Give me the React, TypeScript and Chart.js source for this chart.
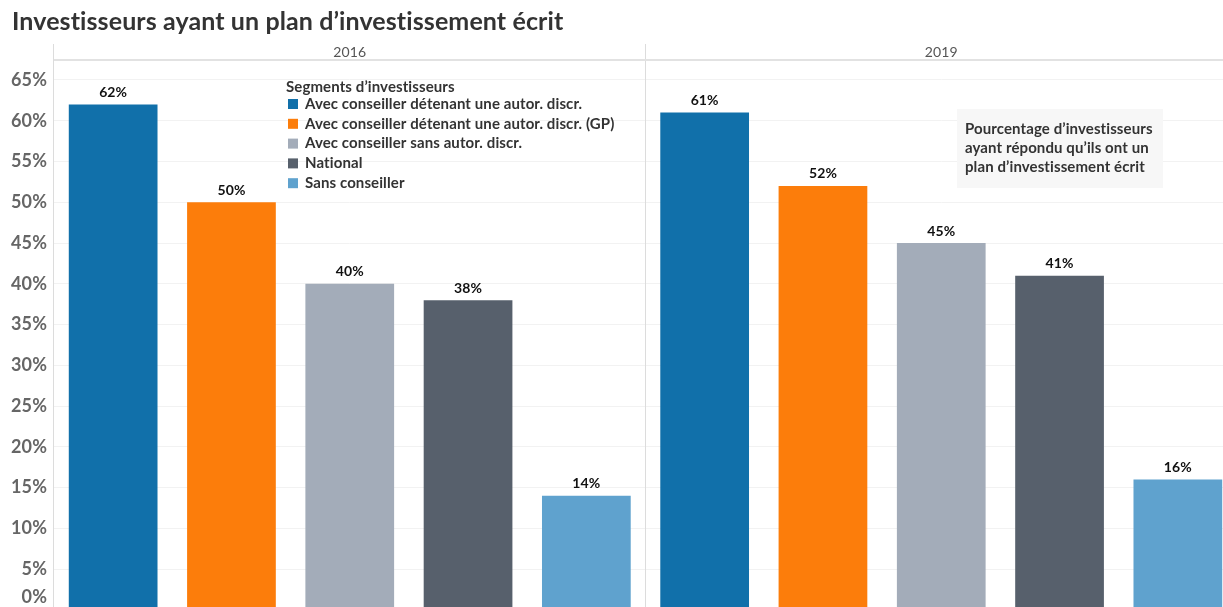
import React, { useEffect, useRef } from "react";
import { Chart, registerables } from "chart.js";

Chart.register(...registerables);

const TITLE = "Investisseurs ayant un plan d’investissement écrit";
const YEARS = ["2016", "2019"];
const SEGMENTS = [
  "Avec conseiller détenant une autor. discr.",
  "Avec conseiller détenant une autor. discr. (GP)",
  "Avec conseiller sans autor. discr.",
  "National",
  "Sans conseiller",
];
const VALUES_2016 = [62, 50, 40, 38, 14];
const VALUES_2019 = [61, 52, 45, 41, 16];
const COLORS = ["#1170aa", "#fc7d0b", "#a3acb9", "#57606c", "#5fa2ce"];
const LEGEND_TITLE = "Segments d’investisseurs";
const NOTE_LINES = [
  "Pourcentage d’investisseurs",
  "ayant répondu qu’ils ont un",
  "plan d’investissement écrit",
];
const Y_TICKS = [0, 5, 10, 15, 20, 25, 30, 35, 40, 45, 50, 55, 60, 65];

const FONT = "Lato, 'Noto Sans', sans-serif";

export default function App() {
  const ref = useRef<HTMLCanvasElement | null>(null);

  useEffect(() => {
    document.body.style.margin = "0";
    const canvas = ref.current;
    if (!canvas) return;

    const series = [VALUES_2016, VALUES_2019];
    const points: { x: number; y: number }[] = [];
    const bg: string[] = [];
    series.forEach((vals, p) => {
      vals.forEach((v, i) => {
        points.push({ x: p * SEGMENTS.length + i + 0.5, y: v });
        bg.push(COLORS[i]);
      });
    });

    const decor = {
      id: "decor",
      afterDatasetsDraw(chart: any) {
        const ctx = chart.ctx;
        const xs = chart.scales.x;
        const ys = chart.scales.y;
        const area = chart.chartArea;
        ctx.save();
        try {
          (ctx as any).letterSpacing = "0.1px";
        } catch (e) {}

        // title
        ctx.fillStyle = "#333333";
        ctx.font = `bold 25px ${FONT}`;
        ctx.textAlign = "left";
        ctx.textBaseline = "middle";
        ctx.fillText(TITLE, 12, 22);

        // panel lines
        ctx.strokeStyle = "#dcdcdc";
        ctx.lineWidth = 1;
        const n = SEGMENTS.length;
        const bounds = [0, n, 2 * n].map((v) => Math.round(xs.getPixelForValue(v)) - 0.5);
        bounds.forEach((bx) => {
          ctx.beginPath();
          ctx.moveTo(bx, 44);
          ctx.lineTo(bx, area.bottom);
          ctx.stroke();
        });
        ctx.strokeStyle = "#e2e2e2";
        ctx.lineWidth = 2;
        ctx.beginPath();
        ctx.moveTo(area.left, 60);
        ctx.lineTo(area.right, 60);
        ctx.stroke();

        // headers
        ctx.fillStyle = "#555555";
        ctx.font = `14px ${FONT}`;
        ctx.textAlign = "center";
        YEARS.forEach((yr, p) => {
          ctx.fillText(yr, xs.getPixelForValue(p * n + n / 2), 52);
        });

        // y labels
        ctx.fillStyle = "#666666";
        ctx.font = `bold 18px ${FONT}`;
        ctx.textAlign = "right";
        Y_TICKS.forEach((t) => {
          const py = Math.min(ys.getPixelForValue(t), 597);
          ctx.fillText(`${t}%`, 47, py);
        });

        // data labels
        const meta = chart.getDatasetMeta(0);
        ctx.fillStyle = "#111111";
        ctx.font = `bold 14px ${FONT}`;
        ctx.textAlign = "center";
        meta.data.forEach((el: any, idx: number) => {
          const v = points[idx].y;
          ctx.fillText(`${v}%`, el.x, el.y - 12);
        });

        // legend
        ctx.textAlign = "left";
        ctx.fillStyle = "#333333";
        ctx.font = `bold 15px ${FONT}`;
        ctx.fillText(LEGEND_TITLE, 286, 87);
        SEGMENTS.forEach((s, i) => {
          const ly = 104 + i * 19.8;
          ctx.fillStyle = COLORS[i];
          ctx.fillRect(288, ly - 5, 10, 10);
          ctx.fillStyle = "#333333";
          ctx.fillText(s, 305, ly);
        });

        // note box
        ctx.fillStyle = "#f7f7f7";
        ctx.fillRect(957, 109, 206, 79);
        ctx.fillStyle = "#333333";
        NOTE_LINES.forEach((l, i) => {
          ctx.fillText(l, 965, 129 + i * 19);
        });

        ctx.restore();
      },
    };

    const chart = new Chart(canvas, {
      type: "bar",
      data: {
        datasets: [
          {
            data: points as any,
            backgroundColor: bg,
            borderWidth: 0,
            barPercentage: 0.75,
            categoryPercentage: 1,
          },
        ],
      },
      options: {
        animation: false,
        responsive: false,
        devicePixelRatio: 1,
        layout: { padding: { top: 60, left: 0, right: 0, bottom: 0 } },
        plugins: {
          legend: { display: false },
          tooltip: { enabled: false },
          title: { display: false },
        },
        scales: {
          x: {
            type: "linear",
            display: false,
            offset: false,
            min: 0,
            max: SEGMENTS.length * YEARS.length,
          },
          y: {
            type: "linear",
            min: 0,
            max: 67.45,
            afterFit: (scale: any) => {
              scale.width = 54;
            },
            afterBuildTicks: (scale: any) => {
              scale.ticks = Y_TICKS.map((v) => ({ value: v }));
            },
            ticks: { display: false },
            grid: { color: "#f2f2f2", lineWidth: 1, drawTicks: false },
            border: { display: false },
          },
        },
      },
      plugins: [decor],
    });

    return () => chart.destroy();
  }, []);

  return (
    <div style={{ width: 1223, height: 607, overflow: "hidden", position: "relative", background: "#fff" }}>
      <canvas ref={ref} width={1237} height={610} style={{ width: 1237, height: 610, display: "block" }} />
    </div>
  );
}
